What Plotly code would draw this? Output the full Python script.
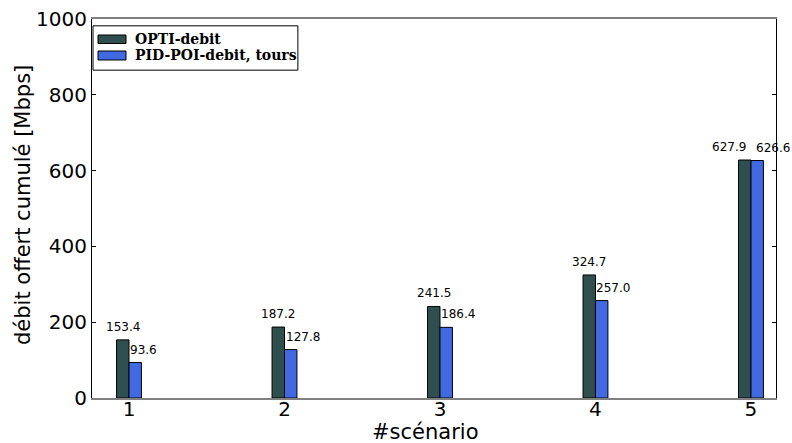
import plotly.graph_objects as go

scenarios = [1, 2, 3, 4, 5]
opti_debit = [153.4, 187.2, 241.5, 324.7, 627.9]
pid_poi_debit = [93.6, 127.8, 186.4, 257.0, 626.6]
series_names = ["OPTI-debit", "PID-POI-debit, tours"]
colors = ["#2F4F4F", "#4169E1"]
y_ticks = [0, 200, 400, 600, 800, 1000]

BW = 0.08
fig = go.Figure()
fig.add_trace(go.Bar(x=scenarios, y=opti_debit, width=BW, offset=-BW,
                     marker=dict(color=colors[0], line=dict(color="black", width=1)),
                     name=series_names[0], showlegend=False))
fig.add_trace(go.Bar(x=scenarios, y=pid_poi_debit, width=BW, offset=0,
                     marker=dict(color=colors[1], line=dict(color="black", width=1)),
                     name=series_names[1], showlegend=False))

ann_font = dict(family="DejaVu Sans", size=12, color="black")
last = len(scenarios) - 1
for i, (x, v) in enumerate(zip(scenarios, opti_debit)):
    if i == last:
        fig.add_annotation(x=x, y=v, text=f"{v:.1f}", showarrow=False,
                           xanchor="right", yanchor="bottom", yshift=4, xshift=-3, font=ann_font)
    else:
        fig.add_annotation(x=x - BW / 2, y=v, text=f"{v:.1f}", showarrow=False,
                           xanchor="center", yanchor="bottom", yshift=4, font=ann_font)
for i, (x, v) in enumerate(zip(scenarios, pid_poi_debit)):
    fig.add_annotation(x=x, y=v, text=f"{v:.1f}", showarrow=False,
                       xanchor="left", yanchor="bottom", yshift=4,
                       xshift=(3 if i == last else -1), font=ann_font)

# axis titles placed as annotations (matplotlib layout)
fig.add_annotation(xref="paper", yref="paper", x=(425 - 92) / 684, y=(398 - 432) / 379, text="#scénario",
                   showarrow=False, xanchor="center", yanchor="middle",
                   font=dict(family="DejaVu Sans", size=21, color="black"))
fig.add_annotation(xref="paper", yref="paper", x=(23 - 92) / 684, y=(398 - 205) / 379,
                   text="débit offert cumulé [Mbps]",
                   showarrow=False, xanchor="center", yanchor="middle", textangle=-90,
                   font=dict(family="DejaVu Sans", size=21, color="black"))

# custom legend (matplotlib style)
fig.add_shape(type="rect", xref="paper", yref="paper", x0=0.0015, x1=0.301, y0=0.865, y1=0.982,
              line=dict(color="black", width=1), fillcolor="white", layer="above")
sw = [(35, 43.5), (51, 60)]
for i, (t, b) in enumerate(sw):
    fig.add_shape(type="rect", xref="paper", yref="paper",
                  x0=(98 - 92) / 684, x1=(126 - 92) / 684,
                  y0=(398 - b) / 379, y1=(398 - t) / 379,
                  line=dict(color="black", width=1), fillcolor=colors[i], layer="above")
    fig.add_annotation(xref="paper", yref="paper", x=(133 - 92) / 684, y=(398 - (t + b) / 2) / 379,
                       text=f"<b>{series_names[i]}</b>", showarrow=False, xanchor="left", yanchor="middle",
                       font=dict(family="DejaVu Serif", size=14, color="black"))

fig.update_layout(
    width=792, height=443,
    margin=dict(l=92, r=16, t=19, b=45, autoexpand=False),
    paper_bgcolor="white", plot_bgcolor="white",
    font=dict(family="DejaVu Sans", size=20, color="black"),
    xaxis=dict(range=[0.762, 5.161], tickvals=scenarios, ticktext=[str(s) for s in scenarios],
               showline=True, linecolor="#808080", linewidth=1.5, mirror=True, automargin=False,
               ticks="", showgrid=False, zeroline=False, ticklabelstandoff=-8,
               tickfont=dict(size=20)),
    yaxis=dict(range=[0, 1000], tickvals=y_ticks, showline=True, linecolor="black", linewidth=1,
               mirror="ticks", ticks="inside", ticklen=4, tickcolor="black", showgrid=False,
               automargin=False, zeroline=False, tickfont=dict(size=20)),
)
fig.write_html("out.html", config={"displayModeBar": False},
               post_script="document.body.style.margin='0px';")
